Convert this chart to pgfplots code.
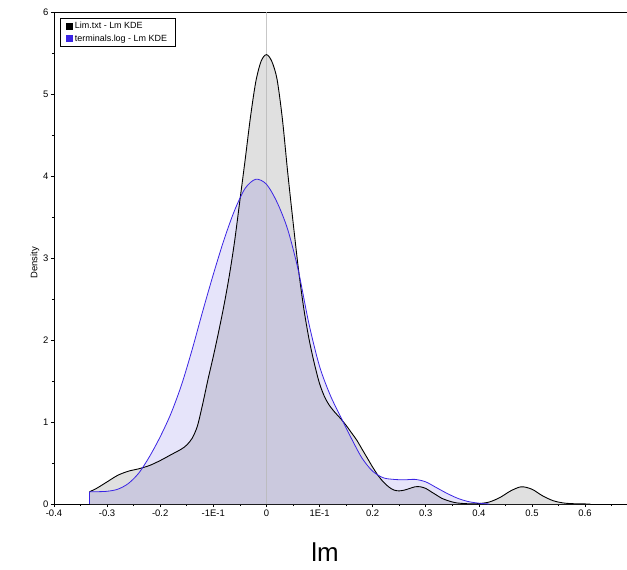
\documentclass[border=0pt]{standalone}
\usepackage{pgfplots}
\usepackage{pgfplotstable}
\pgfplotsset{compat=1.18}
\usepackage{fontspec}
\setmainfont{Liberation Sans}

\definecolor{limfill}{RGB}{224,224,224}
\definecolor{termline}{RGB}{58,36,228}
\definecolor{termfill}{RGB}{62,47,216}
\definecolor{zeroline}{RGB}{185,185,185}

% Kernel density estimates of Lm
\pgfplotstableread{
x y
-0.333 0.15
-0.32 0.19
-0.30 0.27
-0.28 0.35
-0.26 0.40
-0.24 0.43
-0.22 0.47
-0.20 0.53
-0.18 0.60
-0.16 0.67
-0.15 0.72
-0.14 0.80
-0.13 0.95
-0.12 1.22
-0.11 1.52
-0.10 1.80
-0.09 2.10
-0.08 2.42
-0.07 2.78
-0.06 3.20
-0.05 3.70
-0.04 4.20
-0.03 4.72
-0.02 5.15
-0.01 5.40
0.0 5.48
0.01 5.40
0.02 5.18
0.03 4.70
0.04 4.05
0.05 3.45
0.06 2.88
0.07 2.40
0.08 2.02
0.09 1.72
0.10 1.47
0.11 1.30
0.12 1.19
0.13 1.11
0.14 1.04
0.15 0.96
0.16 0.87
0.17 0.78
0.18 0.67
0.19 0.56
0.20 0.45
0.21 0.35
0.22 0.27
0.23 0.21
0.24 0.17
0.25 0.16
0.26 0.17
0.27 0.19
0.28 0.21
0.29 0.21
0.30 0.19
0.31 0.15
0.32 0.11
0.33 0.07
0.34 0.045
0.35 0.025
0.36 0.012
0.38 0.003
0.40 0.005
0.42 0.025
0.44 0.08
0.46 0.16
0.48 0.21
0.50 0.18
0.52 0.10
0.54 0.04
0.56 0.012
0.58 0.003
0.61 0.0
}\limdata

\pgfplotstableread{
x y
-0.333 0.15
-0.32 0.15
-0.30 0.155
-0.28 0.18
-0.26 0.25
-0.24 0.38
-0.22 0.58
-0.20 0.82
-0.18 1.10
-0.16 1.45
-0.14 1.88
-0.12 2.35
-0.10 2.80
-0.08 3.22
-0.06 3.58
-0.04 3.85
-0.02 3.96
0.0 3.90
0.02 3.68
0.04 3.35
0.06 2.85
0.08 2.20
0.10 1.68
0.12 1.33
0.14 1.06
0.16 0.80
0.18 0.56
0.20 0.40
0.22 0.32
0.24 0.30
0.26 0.295
0.28 0.30
0.30 0.27
0.32 0.20
0.34 0.13
0.36 0.07
0.38 0.03
0.40 0.01
0.42 0.0
}\termdata

\begin{document}
\begin{tikzpicture}
\begin{axis}[
  scale only axis,
  width=573bp, height=492bp,
  xmin=-0.4, xmax=0.679, ymin=0, ymax=6,
  axis x line*=box, axis y line*=left,
  axis line style={line width=0.8bp},
  tick pos=left,
  tick align=outside,
  major tick length=3bp, minor tick length=2bp,
  tick style={black, line width=0.6bp},
  xtick={-0.4,-0.3,-0.2,-0.1,0,0.1,0.2,0.3,0.4,0.5,0.6},
  xticklabels={-0.4,-0.3,-0.2,-1E-1,0,1E-1,0.2,0.3,0.4,0.5,0.6},
  minor xtick={-0.35,-0.25,-0.15,-0.05,0.05,0.15,0.25,0.35,0.45,0.55,0.65},
  ytick={0,1,2,3,4,5,6},
  yticklabels={0,1,2,3,4,5,6},
  minor ytick={0.5,1.5,2.5,3.5,4.5,5.5},
  tick label style={font=\fontsize{9.5}{11}\selectfont},
  xticklabel style={yshift=1bp},
  yticklabel style={xshift=1bp},
  xlabel={lm},
  xlabel style={font=\fontsize{26}{30}\selectfont, at={(axis description cs:0.473,-0.0976)}, anchor=center},
  ylabel={Density},
  ylabel style={font=\fontsize{9.5}{11}\selectfont, at={(axis description cs:-0.0332,0.49)}, anchor=center},
  legend style={at={(rel axis cs:0,1)}, anchor=north west, xshift=6bp, yshift=-6bp,
    font=\fontsize{9}{10}\selectfont, draw=black, line width=0.6bp,
    inner xsep=6bp, inner ysep=2bp, row sep=0.5bp,
    cells={anchor=west}},
  legend image code/.code={\fill[#1] (0bp,-3bp) rectangle (6bp,3bp);},
]
\addlegendimage{black}
\addlegendentry{Lim.txt - Lm KDE}
\addlegendimage{termline}
\addlegendentry{terminals.log - Lm KDE}

% filled areas (closed straight down to the baseline at both ends)
\addplot[draw=none, fill=limfill, smooth, forget plot] table {\limdata} \closedcycle;
\addplot[draw=none, fill=termfill, fill opacity=0.13, smooth, forget plot] table {\termdata} \closedcycle;
% zero reference line
\addplot[zeroline, line width=0.8bp, opacity=0.8, forget plot] coordinates {(0,0) (0,6)};
% outlines
\addplot[black, line width=0.9bp, smooth, forget plot] table {\limdata};
\addplot[termline, line width=0.8bp, forget plot] coordinates {(-0.333,0) (-0.333,0.15)};
\addplot[termline, line width=0.8bp, smooth, forget plot] table {\termdata};

\coordinate (sw) at (rel axis cs:0,0);
\coordinate (ne) at (rel axis cs:1,1);
\end{axis}
\pgfresetboundingbox
\path ([shift={(-54bp,-66bp)}]sw) rectangle ([shift={(0bp,12bp)}]ne);
\end{tikzpicture}
\end{document}
